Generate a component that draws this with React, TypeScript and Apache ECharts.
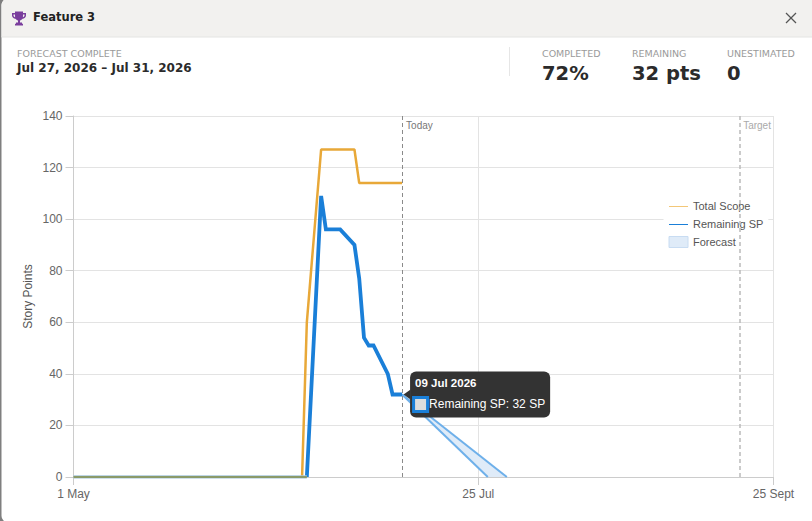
import React, { useEffect, useRef } from "react";
import * as echarts from "echarts";

const scopeDates = ["2026-06-18", "2026-06-19", "2026-06-22", "2026-06-29", "2026-06-30", "2026-07-09"];
const scopeValues = [0, 60, 127, 127, 114, 114];

const remainingDates = [
  "2026-06-19", "2026-06-22", "2026-06-23", "2026-06-26", "2026-06-29", "2026-06-30",
  "2026-07-01", "2026-07-02", "2026-07-03", "2026-07-06", "2026-07-07", "2026-07-09",
];
const remainingValues = [0, 109, 96, 96, 90, 77, 54, 51, 51, 40, 32, 32];

const baselineDates = ["2026-05-01", "2026-06-19"];
const baselineValues = [0, 0];

const forecastDates = ["2026-07-09", "2026-07-27", "2026-07-31"];
const forecastEarly = [32, 0, null];
const forecastLate = [32, null, 0];

const xTickDates = ["2026-05-01", "2026-07-25", "2026-09-25"];
const xTickLabels = ["1 May", "25 Jul", "25 Sept"];
const todayDate = "2026-07-09";
const targetDate = "2026-09-18";
const tooltipDate = "09 Jul 2026";
const tooltipValue = 32;

const stats = [
  { label: "COMPLETED", value: "72%", x: 542 },
  { label: "REMAINING", value: "32 pts", x: 632 },
  { label: "UNESTIMATED", value: "0", x: 727 },
];

const ms = (d: string) => {
  const [y, m, dd] = d.split("-").map(Number);
  return Date.UTC(y, m - 1, dd);
};
const zip = (ds: string[], vs: (number | null)[]) =>
  ds.map((d, i) => (vs[i] === null ? null : [ms(d), vs[i]])).filter(Boolean);

const UI = "'DejaVu Sans'";
const CH = "'Liberation Sans'";
const BLUE = "#1a7fd8";
const ORANGE = "#e8a838";
const HIDDEN_SYMBOL = { color: "transparent", borderWidth: 0, borderColor: "transparent" };

echarts.graphic.registerShape(
  "trophy",
  echarts.graphic.extendPath(
    "M3 0H11V1.5H14V4C14 6 12.2 7 10.6 7.3C10 8.2 9 8.8 8 9V11H10V12.3H11V14H3V12.3H4V11H6V9C5 8.8 4 8.2 3.4 7.3C1.8 7 0 6 0 4V1.5H3ZM1.5 3V4C1.5 4.9 2.2 5.5 3.1 5.8C3 5 3 4 3 3ZM12.5 3H11C11 4 11 5 10.9 5.8C11.8 5.5 12.5 4.9 12.5 4Z",
    {}
  ) as any
);

const txt = (text: string, x: number, y: number, font: string, fill: string) => ({
  type: "text",
  x,
  y,
  style: { text, font, fill, verticalAlign: "middle", align: "left" },
  z: 3,
});

export default function App() {
  const ref = useRef<HTMLDivElement>(null);
  useEffect(() => {
    const chart = echarts.init(ref.current!, null, { renderer: "svg" });
    const forecastPolygon = [
      [ms(forecastDates[0]), forecastEarly[0]],
      [ms(forecastDates[1]), forecastEarly[1]],
      [ms(forecastDates[2]), forecastLate[2]],
    ];
    const tickValues = xTickDates.map(ms);
    chart.setOption({
      animation: false,
      backgroundColor: "#ffffff",
      textStyle: { fontFamily: CH },
      grid: { left: 73.5, top: 116, width: 700, height: 361, containLabel: false },
      graphic: [
        { type: "rect", shape: { x: 0, y: 0, width: 12, height: 521 }, style: { fill: "#7f7f7f" }, z: -3 },
        { type: "rect", shape: { x: 1.5, y: -1, width: 830, height: 523, r: 6 }, style: { fill: "#ffffff" }, z: -2 },
        { type: "rect", shape: { x: 1.5, y: -1, width: 830, height: 38, r: [6, 0, 0, 0] }, style: { fill: "#f2f1ef" }, z: -1 },
        { type: "line", shape: { x1: 1.5, y1: 37, x2: 812, y2: 37 }, style: { stroke: "#e4e4e2", lineWidth: 1 }, z: -1 },
        { type: "trophy", x: 12, y: 11.5, scaleX: 1, scaleY: 1, style: { fill: "#7a3e9d" }, z: 3 },
        txt("Feature 3", 33, 17, `bold 11.5px ${UI}`, "#222222"),
        { type: "line", shape: { x1: 786, y1: 13, x2: 796, y2: 23 }, style: { stroke: "#555555", lineWidth: 1.2 }, z: 3 },
        { type: "line", shape: { x1: 796, y1: 13, x2: 786, y2: 23 }, style: { stroke: "#555555", lineWidth: 1.2 }, z: 3 },
        txt("FORECAST COMPLETE", 17, 53, `9.5px ${UI}`, "#9a9a9a"),
        txt("Jul 27, 2026 – Jul 31, 2026", 17, 68, `bold 12px ${UI}`, "#2b2b2b"),
        { type: "line", shape: { x1: 509.5, y1: 47, x2: 509.5, y2: 76 }, style: { stroke: "#e6e6e6", lineWidth: 1 }, z: 3 },
        ...stats.flatMap((s) => [
          txt(s.label, s.x, 53, `9.5px ${UI}`, "#9a9a9a"),
          txt(s.value, s.x, 73, `bold 19.5px ${UI}`, "#2b2b2b"),
        ]),
        { type: "line", shape: { x1: 669, y1: 206.5, x2: 688, y2: 206.5 }, style: { stroke: "#f3c778", lineWidth: 1 }, z: 20 },
        { type: "line", shape: { x1: 669, y1: 224.5, x2: 688, y2: 224.5 }, style: { stroke: BLUE, lineWidth: 1 }, z: 20 },
      ],
      legend: {
        orient: "vertical",
        left: 663.5,
        top: 196,
        padding: [4, 5, 4, 5],
        backgroundColor: "#ffffff",
        itemWidth: 19,
        itemHeight: 11,
        itemGap: 7,
        selectedMode: false,
        textStyle: { color: "#555555", fontSize: 11, fontFamily: CH },
        data: [
          { name: "Total Scope", icon: "rect", itemStyle: HIDDEN_SYMBOL },
          { name: "Remaining SP", icon: "rect", itemStyle: HIDDEN_SYMBOL },
          { name: "Forecast", icon: "rect", itemStyle: { color: "#dfebf8", borderColor: "#c8dcf2", borderWidth: 1 } },
        ],
      },
      xAxis: {
        type: "value",
        min: ms("2026-05-01"),
        max: ms("2026-09-25"),
        axisLine: { show: true, lineStyle: { color: "#cccccc" } },
        axisTick: { show: true, length: 8, customValues: tickValues, lineStyle: { color: "#cccccc" } },
        splitLine: { show: true, lineStyle: { color: "#e3e3e3" } },
        axisLabel: {
          customValues: tickValues,
          color: "#666666",
          fontSize: 12,
          margin: 11,
          hideOverlap: false,
          showMinLabel: true,
          showMaxLabel: true,
          formatter: (v: number) => xTickLabels[tickValues.indexOf(v)] ?? "",
        },
      },
      yAxis: {
        type: "value",
        min: 0,
        max: 140,
        interval: 20,
        name: "Story Points",
        nameLocation: "middle",
        nameGap: 40,
        nameMoveOverlap: false,
        nameTextStyle: { color: "#555555", fontSize: 12 },
        axisLine: { show: true, lineStyle: { color: "#cccccc" } },
        axisTick: { show: true, length: 8, lineStyle: { color: "#cccccc" } },
        splitLine: { show: true, lineStyle: { color: "#e3e3e3" } },
        axisLabel: { color: "#666666", fontSize: 12, margin: 11 },
      },
      series: [
        {
          name: "Forecast",
          type: "custom",
          z: 2,
          data: forecastPolygon,
          encode: { x: 0, y: 1 },
          renderItem: (params: any, api: any) =>
            params.dataIndex === 0
              ? {
                  type: "polygon",
                  shape: { points: forecastPolygon.map((p) => api.coord(p)) },
                  style: { fill: "#dfebf8" },
                }
              : null,
        },
        {
          name: "Forecast Early",
          type: "line",
          z: 2,
          symbol: "none",
          data: zip(forecastDates, forecastEarly),
          lineStyle: { color: "#6eb0ea", width: 2 },
        },
        {
          name: "Forecast Late",
          type: "line",
          z: 2,
          symbol: "none",
          data: zip(forecastDates, forecastLate),
          lineStyle: { color: "#6eb0ea", width: 2 },
        },
        {
          name: "Total Scope",
          type: "line",
          z: 3,
          symbol: "none",
          itemStyle: { color: ORANGE },
          data: zip(scopeDates, scopeValues),
          lineStyle: { color: ORANGE, width: 2.5 },
          markLine: {
            silent: true,
            symbol: "none",
            animation: false,
            data: [
              {
                xAxis: ms(todayDate),
                lineStyle: { color: "#8a8a8a", type: [4, 3], width: 1 },
                label: {
                  formatter: "Today",
                  position: "insideEndTop",
                  rotate: 0,
                  align: "left",
                  verticalAlign: "middle",
                  offset: [9, 14],
                  color: "#777777",
                  fontSize: 10,
                },
              },
              {
                xAxis: ms(targetDate),
                lineStyle: { color: "#bbbbbb", type: [4, 3], width: 1.5 },
                label: {
                  formatter: "Target",
                  position: "insideEndTop",
                  rotate: 0,
                  align: "left",
                  verticalAlign: "middle",
                  offset: [8, 14],
                  color: "#aaaaaa",
                  fontSize: 10,
                },
              },
            ],
          },
        },
        {
          name: "Remaining SP",
          type: "line",
          z: 3,
          symbol: "none",
          itemStyle: { color: BLUE },
          data: zip(remainingDates, remainingValues),
          lineStyle: { color: BLUE, width: 3.8, join: "miter", miterLimit: 10 },
          markPoint: {
            silent: true,
            animation: false,
            data: [
              {
                coord: [ms(todayDate), tooltipValue],
                symbol: "triangle",
                symbolSize: [10, 7],
                symbolRotate: 90,
                symbolOffset: [5, 0],
                itemStyle: { color: "#333333" },
                label: { show: false },
              },
              {
                coord: [ms(todayDate), tooltipValue],
                symbol: "rect",
                symbolSize: 0,
                itemStyle: { color: "#333333" },
                label: {
                  show: true,
                  position: "right",
                  distance: 8,
                  backgroundColor: "#333333",
                  borderRadius: 6,
                  padding: [3, 5, 1, 5],
                  formatter: `{t|${tooltipDate}}\n{s|}{b|Remaining SP: ${tooltipValue} SP}`,
                  rich: {
                    t: { color: "#ffffff", fontWeight: "bold", fontSize: 11.5, fontFamily: CH, lineHeight: 18 },
                    s: { width: 11, height: 11, backgroundColor: "#dddddd", borderColor: BLUE, borderWidth: 3, lineHeight: 24 },
                    b: { color: "#ffffff", fontSize: 12, fontFamily: CH, lineHeight: 24, padding: [0, 0, 0, 3] },
                  },
                },
              },
            ],
          },
        },
        {
          name: "Baseline Under",
          type: "line",
          z: 3,
          symbol: "none",
          data: zip(baselineDates, baselineValues),
          lineStyle: { color: "#a9c8dc", width: 3.5 },
        },
        {
          name: "Baseline",
          type: "line",
          z: 4,
          symbol: "none",
          data: zip(baselineDates, baselineValues),
          lineStyle: { color: "#8a9a6a", width: 2 },
        },
      ],
    });
    return () => chart.dispose();
  }, []);
  return <div ref={ref} style={{ position: "absolute", left: 0, top: 0, width: 812, height: 521 }} />;
}
